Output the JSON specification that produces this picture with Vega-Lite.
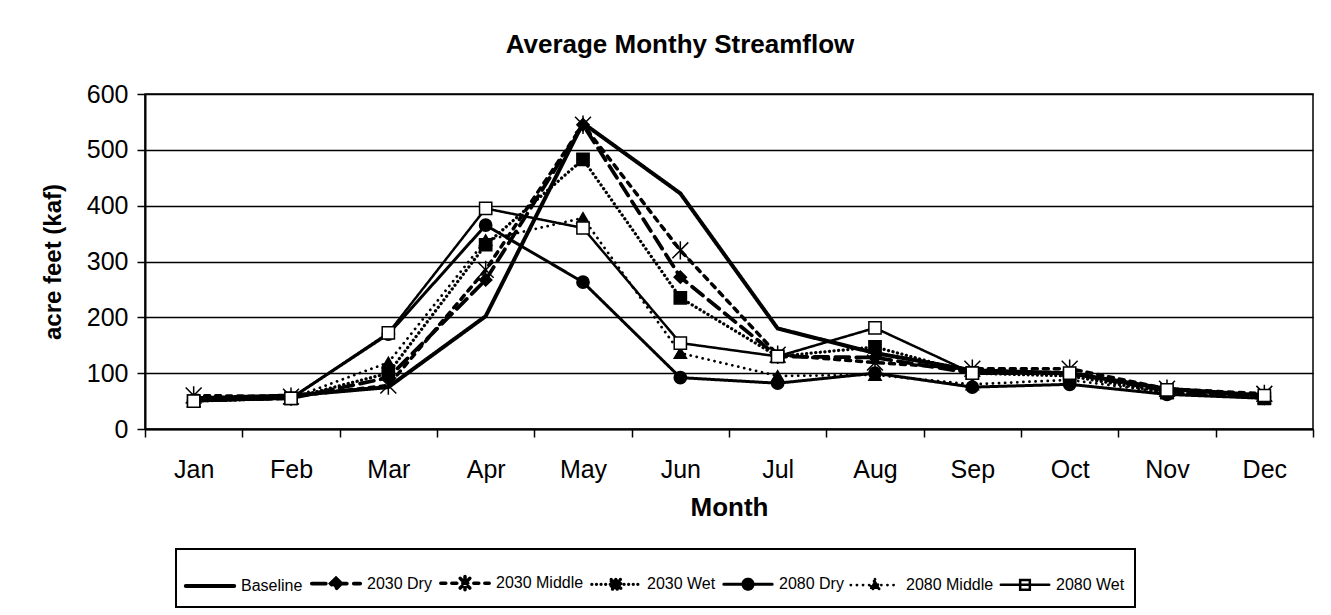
{
  "$schema": "https://vega.github.io/schema/vega-lite/v6.json",
  "autosize": {"type": "none"},
  "width": 1168,
  "height": 335,
  "padding": {"left": 145, "top": 94, "right": 18, "bottom": 186},
  "background": "white",
  "title": {
    "text": "Average Monthy Streamflow",
    "font": "Liberation Sans",
    "fontSize": 26,
    "fontWeight": "bold",
    "color": "black",
    "anchor": "middle",
    "dx": -49,
    "baseline": "bottom",
    "offset": -2
  },
  "config": {
    "font": "Liberation Sans",
    "view": {"stroke": "black", "strokeWidth": 1.5},
    "axis": {
      "labelFont": "Liberation Sans",
      "titleFont": "Liberation Sans",
      "labelColor": "black",
      "titleColor": "black",
      "domainColor": "black",
      "tickColor": "black",
      "domainWidth": 2,
      "tickWidth": 1.5
    }
  },
  "data": {
    "values": [
      {"month": "Jan", "series": "Baseline", "kaf": 55},
      {"month": "Feb", "series": "Baseline", "kaf": 60},
      {"month": "Mar", "series": "Baseline", "kaf": 75},
      {"month": "Apr", "series": "Baseline", "kaf": 202},
      {"month": "May", "series": "Baseline", "kaf": 548},
      {"month": "Jun", "series": "Baseline", "kaf": 422},
      {"month": "Jul", "series": "Baseline", "kaf": 180},
      {"month": "Aug", "series": "Baseline", "kaf": 136},
      {"month": "Sep", "series": "Baseline", "kaf": 105},
      {"month": "Oct", "series": "Baseline", "kaf": 100},
      {"month": "Nov", "series": "Baseline", "kaf": 72},
      {"month": "Dec", "series": "Baseline", "kaf": 60},

      {"month": "Jan", "series": "2030 Dry", "kaf": 52},
      {"month": "Feb", "series": "2030 Dry", "kaf": 55},
      {"month": "Mar", "series": "2030 Dry", "kaf": 92},
      {"month": "Apr", "series": "2030 Dry", "kaf": 267},
      {"month": "May", "series": "2030 Dry", "kaf": 545},
      {"month": "Jun", "series": "2030 Dry", "kaf": 272},
      {"month": "Jul", "series": "2030 Dry", "kaf": 130},
      {"month": "Aug", "series": "2030 Dry", "kaf": 128},
      {"month": "Sep", "series": "2030 Dry", "kaf": 100},
      {"month": "Oct", "series": "2030 Dry", "kaf": 100},
      {"month": "Nov", "series": "2030 Dry", "kaf": 68},
      {"month": "Dec", "series": "2030 Dry", "kaf": 58},

      {"month": "Jan", "series": "2030 Middle", "kaf": 60},
      {"month": "Feb", "series": "2030 Middle", "kaf": 58},
      {"month": "Mar", "series": "2030 Middle", "kaf": 78},
      {"month": "Apr", "series": "2030 Middle", "kaf": 285},
      {"month": "May", "series": "2030 Middle", "kaf": 545},
      {"month": "Jun", "series": "2030 Middle", "kaf": 320},
      {"month": "Jul", "series": "2030 Middle", "kaf": 133},
      {"month": "Aug", "series": "2030 Middle", "kaf": 119},
      {"month": "Sep", "series": "2030 Middle", "kaf": 108},
      {"month": "Oct", "series": "2030 Middle", "kaf": 108},
      {"month": "Nov", "series": "2030 Middle", "kaf": 72},
      {"month": "Dec", "series": "2030 Middle", "kaf": 63},

      {"month": "Jan", "series": "2030 Wet", "kaf": 50},
      {"month": "Feb", "series": "2030 Wet", "kaf": 55},
      {"month": "Mar", "series": "2030 Wet", "kaf": 100},
      {"month": "Apr", "series": "2030 Wet", "kaf": 330},
      {"month": "May", "series": "2030 Wet", "kaf": 483},
      {"month": "Jun", "series": "2030 Wet", "kaf": 235},
      {"month": "Jul", "series": "2030 Wet", "kaf": 130},
      {"month": "Aug", "series": "2030 Wet", "kaf": 147},
      {"month": "Sep", "series": "2030 Wet", "kaf": 100},
      {"month": "Oct", "series": "2030 Wet", "kaf": 95},
      {"month": "Nov", "series": "2030 Wet", "kaf": 65},
      {"month": "Dec", "series": "2030 Wet", "kaf": 55},

      {"month": "Jan", "series": "2080 Dry", "kaf": 50},
      {"month": "Feb", "series": "2080 Dry", "kaf": 55},
      {"month": "Mar", "series": "2080 Dry", "kaf": 170},
      {"month": "Apr", "series": "2080 Dry", "kaf": 365},
      {"month": "May", "series": "2080 Dry", "kaf": 263},
      {"month": "Jun", "series": "2080 Dry", "kaf": 92},
      {"month": "Jul", "series": "2080 Dry", "kaf": 82},
      {"month": "Aug", "series": "2080 Dry", "kaf": 100},
      {"month": "Sep", "series": "2080 Dry", "kaf": 75},
      {"month": "Oct", "series": "2080 Dry", "kaf": 80},
      {"month": "Nov", "series": "2080 Dry", "kaf": 62},
      {"month": "Dec", "series": "2080 Dry", "kaf": 55},

      {"month": "Jan", "series": "2080 Middle", "kaf": 50},
      {"month": "Feb", "series": "2080 Middle", "kaf": 55},
      {"month": "Mar", "series": "2080 Middle", "kaf": 119},
      {"month": "Apr", "series": "2080 Middle", "kaf": 338},
      {"month": "May", "series": "2080 Middle", "kaf": 378},
      {"month": "Jun", "series": "2080 Middle", "kaf": 136},
      {"month": "Jul", "series": "2080 Middle", "kaf": 95},
      {"month": "Aug", "series": "2080 Middle", "kaf": 97},
      {"month": "Sep", "series": "2080 Middle", "kaf": 80},
      {"month": "Oct", "series": "2080 Middle", "kaf": 88},
      {"month": "Nov", "series": "2080 Middle", "kaf": 65},
      {"month": "Dec", "series": "2080 Middle", "kaf": 55},

      {"month": "Jan", "series": "2080 Wet", "kaf": 50},
      {"month": "Feb", "series": "2080 Wet", "kaf": 55},
      {"month": "Mar", "series": "2080 Wet", "kaf": 172},
      {"month": "Apr", "series": "2080 Wet", "kaf": 395},
      {"month": "May", "series": "2080 Wet", "kaf": 360},
      {"month": "Jun", "series": "2080 Wet", "kaf": 154},
      {"month": "Jul", "series": "2080 Wet", "kaf": 130},
      {"month": "Aug", "series": "2080 Wet", "kaf": 181},
      {"month": "Sep", "series": "2080 Wet", "kaf": 100},
      {"month": "Oct", "series": "2080 Wet", "kaf": 100},
      {"month": "Nov", "series": "2080 Wet", "kaf": 70},
      {"month": "Dec", "series": "2080 Wet", "kaf": 60}
    ]
  },
  "encoding": {
    "x": {
      "field": "month",
      "type": "nominal",
      "sort": ["Jan","Feb","Mar","Apr","May","Jun","Jul","Aug","Sep","Oct","Nov","Dec"],
      "scale": {"type": "band", "paddingInner": 0, "paddingOuter": 0},
      "axis": {
        "title": "Month",
        "titleFontSize": 26,
        "titleFontWeight": "bold",
        "titlePadding": 12,
        "labelFontSize": 25,
        "labelAngle": 0,
        "labelPadding": 20,
        "tickSize": 8,
        "tickBand": "extent",
        "grid": false
      }
    },
    "y": {
      "field": "kaf",
      "type": "quantitative",
      "scale": {"domain": [0, 600], "nice": false, "zero": true},
      "axis": {
        "title": "acre feet (kaf)",
        "titleFontSize": 24,
        "titleFontWeight": "bold",
        "titlePadding": 21,
        "labelFontSize": 25,
        "labelPadding": 9,
        "tickSize": 8,
        "values": [0, 100, 200, 300, 400, 500, 600],
        "grid": true,
        "gridColor": "black",
        "gridWidth": 1.5,
        "gridOpacity": 1
      }
    }
  },
  "layer": [
    {
      "mark": {"type": "line", "color": "black", "strokeCap": "round", "strokeJoin": "miter"},
      "encoding": {
        "strokeDash": {
          "field": "series",
          "type": "nominal",
          "scale": {
            "domain": ["Baseline","2030 Dry","2030 Middle","2030 Wet","2080 Dry","2080 Middle","2080 Wet"],
            "range": [[1,0],[14,7],[5,6],[0.1,4.5],[1,0],[0.1,6],[1,0]]
          },
          "legend": {
            "title": null,
            "orient": "none",
            "legendX": 31,
            "legendY": 455,
            "direction": "horizontal",
            "columns": 7,
            "padding": 10,
            "strokeColor": "black",
            "fillColor": "white",
            "symbolSize": 1936,
            "symbolStrokeColor": "black",
            "symbolStrokeWidth": 2,
            "labelFont": "Liberation Sans",
            "labelFontSize": 16,
            "labelColor": "black",
            "labelOffset": 7,
            "labelLimit": 300,
            "columnPadding": 1,
            "encoding": {
              "legend": {
                "strokeWidth": {"value": 2}
              },
              "symbols": {
                "shape": {"value": {"signal": "datum.value === 'Baseline' ? 'M-1.1,0H1.1' : datum.value === '2030 Dry' ? 'M-1.1,0H1.1M0,-0.24L0.24,0L0,0.24L-0.24,0Z' : datum.value === '2030 Middle' ? 'M-1.1,0H1.1M-0.22,-0.22L0.22,0.22M0.22,-0.22L-0.22,0.22M0,-0.3V0.3' : datum.value === '2030 Wet' ? 'M-1.1,0H1.1M-0.22,-0.22H0.22V0.22H-0.22Z' : datum.value === '2080 Dry' ? 'M-1.1,0H1.1M-0.23,0A0.23,0.23 0 1,0 0.23,0A0.23,0.23 0 1,0 -0.23,0Z' : datum.value === '2080 Middle' ? 'M-1.1,0H1.1M0,-0.26L0.24,0.18L-0.24,0.18Z' : 'M-1.1,0H-0.22M0.22,0H1.1M-0.22,-0.22H0.22V0.22H-0.22ZM-0.22,0H0.22'"}},
                "fill": {"value": {"signal": "datum.value === 'Baseline' ? 'transparent' : datum.value === '2080 Wet' ? 'white' : 'black'"}},
                "fillOpacity": {"value": 1},
                "stroke": {"value": "black"},
                "strokeOpacity": {"value": 1},
                "strokeCap": {"value": "round"},
                "strokeWidth": {"value": {"signal": "datum.value === 'Baseline' ? 3.5 : datum.value === '2080 Middle' ? 2.6 : 2"}}
              }
            }
          }
        },
        "strokeWidth": {
          "field": "series",
          "type": "nominal",
          "scale": {
            "domain": ["Baseline","2030 Dry","2030 Middle","2030 Wet","2080 Dry","2080 Middle","2080 Wet"],
            "range": [4, 2.5, 2.5, 2.6, 2, 3.6, 2]
          },
          "legend": null
        }
      }
    },
    {
      "transform": [{"filter": "datum.series !== 'Baseline'"}],
      "mark": {"type": "point", "filled": true, "stroke": "black", "strokeWidth": 1.5, "size": 150, "opacity": 1},
      "encoding": {
        "shape": {
          "field": "series",
          "type": "nominal",
          "scale": {
            "domain": ["2030 Dry","2030 Middle","2030 Wet","2080 Dry","2080 Middle","2080 Wet"],
            "range": ["diamond", "M-1.3,-1.3L1.3,1.3M1.3,-1.3L-1.3,1.3M0,-1.5V1.5", "square", "circle", "triangle-up", "square"]
          },
          "legend": null
        },
        "fill": {
          "field": "series",
          "type": "nominal",
          "scale": {
            "domain": ["2030 Dry","2030 Middle","2030 Wet","2080 Dry","2080 Middle","2080 Wet"],
            "range": ["black","black","black","black","black","white"]
          },
          "legend": null
        }
      }
    }
  ]
}
